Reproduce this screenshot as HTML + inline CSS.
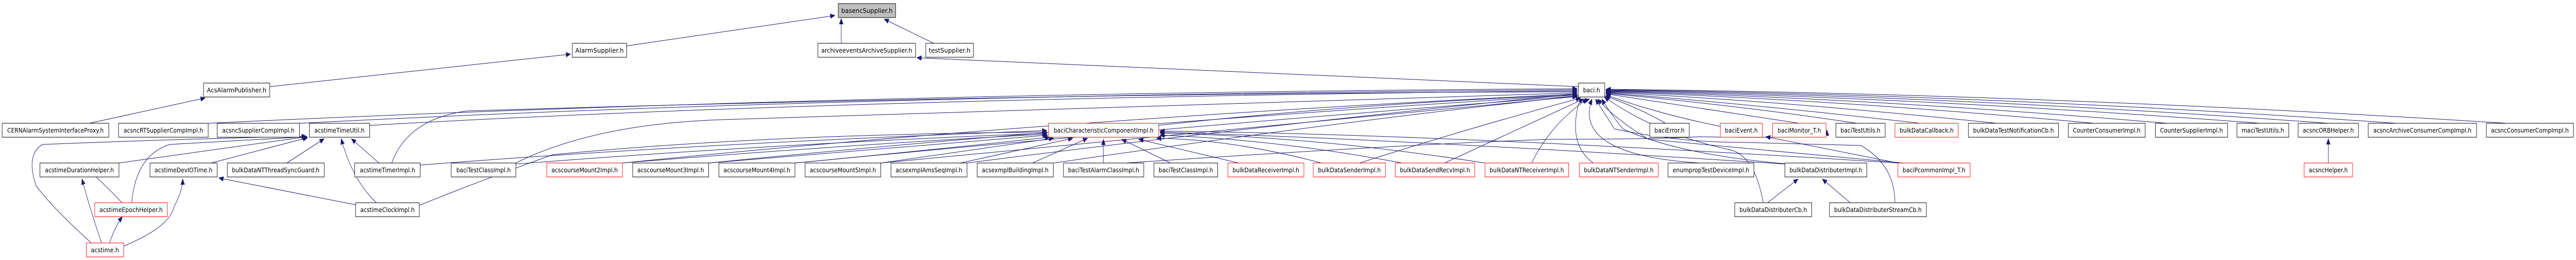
<!DOCTYPE html>
<html><head><meta charset="utf-8"><style>
html,body{margin:0;padding:0;background:#fff;width:100%;height:100%;overflow:hidden;}
svg{display:block;width:100vw;height:100vh;}
text{font-family:"DejaVu Sans","Liberation Sans",sans-serif;font-size:12px;fill:#000;}
.e{fill:none;stroke:#191970;stroke-width:1;}
.b{fill:#fff;stroke:#000;stroke-width:1;}
.r{fill:#fff;stroke:#ff0000;stroke-width:1;}
.g{fill:#bfbfbf;stroke:#000;stroke-width:1;}
</style></head><body>
<svg viewBox="0 0 6063 504" preserveAspectRatio="none" xmlns="http://www.w3.org/2000/svg">
<defs><marker id="a" markerUnits="userSpaceOnUse" markerWidth="12" markerHeight="10" refX="11" refY="5" orient="auto"><path d="M0,0 L12,5 L0,10 z" fill="#191970"/></marker></defs>
<g class="e" marker-end="url(#a)">
<path d="M1475,89 L1965,30"/>
<path d="M1980,84 L1980,36"/>
<path d="M2198,84 L2081,37"/>
<path d="M635,168 L1343,105"/>
<path d="M210,239 L483,190"/>
<path d="M3715,168 L2158,112"/>
<path d="M490,239 Q2000,180 3712,172"/>
<path d="M705,239 Q2000,184 3712,174"/>
<path d="M870,243 Q2000,190 3712,176"/>
<path d="M922,316 Q960,230 1100,215 Q2500,180 3712,178"/>
<path d="M1214,316 Q1400,240 1700,232 Q2800,200 3712,180"/>
<path d="M1465,316 Q2500,230 3712,182"/>
<path d="M1668,316 Q2600,240 3712,184"/>
<path d="M1871,316 Q2700,250 3712,186"/>
<path d="M2073,316 Q2800,258 3712,187"/>
<path d="M2727,243 Q3200,200 3712,184"/>
<path d="M3200,316 Q3450,250 3720,190"/>
<path d="M3400,316 Q3600,240 3727,192"/>
<path d="M3605,316 Q3650,240 3736,192"/>
<path d="M3750,316 Q3690,280 3716,200 L3741,192"/>
<path d="M4000,316 Q3700,300 3747,192"/>
<path d="M2275,316 Q3000,240 3712,182"/>
<path d="M2480,316 Q3200,230 3714,186"/>
<path d="M3920,239 Q3860,210 3778,186"/>
<path d="M4049,245 Q3900,220 3780,184"/>
<path d="M4235,239 Q4000,210 3780,182"/>
<path d="M4370,239 Q4100,205 3780,181"/>
<path d="M4520,239 Q4100,200 3780,180"/>
<path d="M4700,239 Q4200,196 3780,179"/>
<path d="M4930,239 Q4300,192 3780,178"/>
<path d="M5100,239 Q4400,190 3780,177"/>
<path d="M5320,239 Q4500,188 3780,176"/>
<path d="M5480,239 Q4600,186 3780,175"/>
<path d="M5640,239 Q4700,184 3780,174"/>
<path d="M5900,239 Q4800,182 3780,173"/>
<path d="M4210,318 Q3950,300 3820,250 Q3790,220 3770,192"/>
<path d="M4480,316 Q4000,280 3880,270 Q3800,230 3760,192"/>
<path d="M4150,393 Q4130,300 4070,290 Q3900,260 3776,188"/>
<path d="M4460,393 Q4460,320 4380,282 L4100,276 Q3950,276 3800,250 L3755,192"/>
<path d="M280,316 L723,265"/>
<path d="M497,316 L724,267"/>
<path d="M675,316 L763,269"/>
<path d="M892,316 L827,269"/>
<path d="M886,393 Q830,350 803,269"/>
<path d="M310,393 Q320,300 400,280 Q600,270 722,265"/>
<path d="M215,471 Q120,400 85,360 Q60,300 100,280 Q400,270 721,264"/>
<path d="M287,393 Q250,360 212,333"/>
<path d="M239,471 Q210,400 193,347"/>
<path d="M258,471 Q270,440 288,420"/>
<path d="M291,477 Q400,440 410,400 Q430,370 430,347"/>
<path d="M837,397 L515,345"/>
<path d="M989,320 Q1600,280 2464,253"/>
<path d="M987,398 Q1100,360 1300,300 Q1800,260 2464,256"/>
<path d="M1214,318 Q1800,280 2464,258"/>
<path d="M1465,316 Q2000,280 2464,260"/>
<path d="M1668,316 Q2100,285 2466,262"/>
<path d="M1871,316 Q2200,290 2470,266"/>
<path d="M2073,316 Q2300,290 2480,268"/>
<path d="M2260,316 L2525,268"/>
<path d="M2430,316 L2560,268"/>
<path d="M2597,316 L2597,270"/>
<path d="M2755,316 L2640,270"/>
<path d="M2915,316 L2680,270"/>
<path d="M3110,316 Q2900,270 2722,268"/>
<path d="M3300,316 Q3000,270 2730,262"/>
<path d="M3495,316 Q3100,265 2730,258"/>
<path d="M4201,318 Q3300,270 2730,256"/>
<path d="M4467,316 Q3400,260 2730,254"/>
<path d="M2650,316 Q3300,280 3650,270 Q3900,270 4000,265 Q4300,270 4300,255 L4300,252"/>
<path d="M4467,316 L4156,265"/>
<path d="M4160,393 L4232,347"/>
<path d="M4355,393 L4289,347"/>
<path d="M5480,316 L5480,269"/>
</g>
<g>
<rect class="g" x="1973" y="7" width="135" height="27"/><text x="2040.5" y="25" text-anchor="middle" textLength="121" lengthAdjust="spacingAndGlyphs">basencSupplier.h</text>
<rect class="b" x="1347" y="84" width="128" height="27"/><text x="1411" y="102" text-anchor="middle" textLength="114" lengthAdjust="spacingAndGlyphs">AlarmSupplier.h</text>
<rect class="b" x="1925" y="84" width="230" height="27"/><text x="2040" y="102" text-anchor="middle" textLength="214" lengthAdjust="spacingAndGlyphs">archiveeventsArchiveSupplier.h</text>
<rect class="b" x="2179" y="84" width="112" height="27"/><text x="2235" y="102" text-anchor="middle" textLength="98" lengthAdjust="spacingAndGlyphs">testSupplier.h</text>
<rect class="b" x="479" y="161" width="156" height="27"/><text x="557" y="179" text-anchor="middle" textLength="140" lengthAdjust="spacingAndGlyphs">AcsAlarmPublisher.h</text>
<rect class="b" x="3715" y="161" width="62" height="27"/><text x="3746" y="179" text-anchor="middle" textLength="40" lengthAdjust="spacingAndGlyphs">baci.h</text>
<rect class="b" x="5" y="239" width="251" height="27"/><text x="130.5" y="257" text-anchor="middle" textLength="227" lengthAdjust="spacingAndGlyphs">CERNAlarmSystemInterfaceProxy.h</text>
<rect class="b" x="279" y="239" width="211" height="27"/><text x="384.5" y="257" text-anchor="middle" textLength="187" lengthAdjust="spacingAndGlyphs">acsncRTSupplierCompImpl.h</text>
<rect class="b" x="511" y="239" width="194" height="27"/><text x="608" y="257" text-anchor="middle" textLength="170" lengthAdjust="spacingAndGlyphs">acsncSupplierCompImpl.h</text>
<rect class="b" x="728" y="239" width="142" height="27"/><text x="799" y="257" text-anchor="middle" textLength="118" lengthAdjust="spacingAndGlyphs">acstimeTimeUtil.h</text>
<rect class="r" x="2468" y="239" width="259" height="27"/><text x="2597.5" y="257" text-anchor="middle" textLength="235" lengthAdjust="spacingAndGlyphs">baciCharacteristicComponentImpl.h</text>
<rect class="b" x="3883" y="239" width="93" height="27"/><text x="3929.5" y="257" text-anchor="middle" textLength="71" lengthAdjust="spacingAndGlyphs">baciError.h</text>
<rect class="r" x="4049" y="239" width="99" height="27"/><text x="4098.5" y="257" text-anchor="middle" textLength="77" lengthAdjust="spacingAndGlyphs">baciEvent.h</text>
<rect class="r" x="4172" y="239" width="126" height="27"/><text x="4235" y="257" text-anchor="middle" textLength="102" lengthAdjust="spacingAndGlyphs">baciMonitor_T.h</text>
<rect class="b" x="4321" y="239" width="116" height="27"/><text x="4379" y="257" text-anchor="middle" textLength="94" lengthAdjust="spacingAndGlyphs">baciTestUtils.h</text>
<rect class="r" x="4460" y="239" width="149" height="27"/><text x="4534.5" y="257" text-anchor="middle" textLength="127" lengthAdjust="spacingAndGlyphs">bulkDataCallback.h</text>
<rect class="b" x="4633" y="239" width="212" height="27"/><text x="4739" y="257" text-anchor="middle" textLength="190" lengthAdjust="spacingAndGlyphs">bulkDataTestNotificationCb.h</text>
<rect class="b" x="4868" y="239" width="181" height="27"/><text x="4958.5" y="257" text-anchor="middle" textLength="159" lengthAdjust="spacingAndGlyphs">CounterConsumerImpl.h</text>
<rect class="b" x="5073" y="239" width="170" height="27"/><text x="5158" y="257" text-anchor="middle" textLength="148" lengthAdjust="spacingAndGlyphs">CounterSupplierImpl.h</text>
<rect class="b" x="5265" y="239" width="122" height="27"/><text x="5326" y="257" text-anchor="middle" textLength="100" lengthAdjust="spacingAndGlyphs">maciTestUtils.h</text>
<rect class="b" x="5409" y="239" width="142" height="27"/><text x="5480" y="257" text-anchor="middle" textLength="120" lengthAdjust="spacingAndGlyphs">acsncORBHelper.h</text>
<rect class="b" x="5574" y="239" width="255" height="27"/><text x="5701.5" y="257" text-anchor="middle" textLength="231" lengthAdjust="spacingAndGlyphs">acsncArchiveConsumerCompImpl.h</text>
<rect class="b" x="5852" y="239" width="205" height="27"/><text x="5954.5" y="257" text-anchor="middle" textLength="183" lengthAdjust="spacingAndGlyphs">acsncConsumerCompImpl.h</text>
<rect class="b" x="94" y="316" width="186" height="27"/><text x="187" y="334" text-anchor="middle" textLength="162" lengthAdjust="spacingAndGlyphs">acstimeDurationHelper.h</text>
<rect class="b" x="353" y="316" width="158" height="27"/><text x="432" y="334" text-anchor="middle" textLength="136" lengthAdjust="spacingAndGlyphs">acstimeDevIOTime.h</text>
<rect class="b" x="535" y="316" width="228" height="27"/><text x="649" y="334" text-anchor="middle" textLength="206" lengthAdjust="spacingAndGlyphs">bulkDataNTThreadSyncGuard.h</text>
<rect class="b" x="835" y="316" width="154" height="27"/><text x="912" y="334" text-anchor="middle" textLength="130" lengthAdjust="spacingAndGlyphs">acstimeTimerImpl.h</text>
<rect class="b" x="1062" y="316" width="152" height="27"/><text x="1138" y="334" text-anchor="middle" textLength="128" lengthAdjust="spacingAndGlyphs">baciTestClassImpl.h</text>
<rect class="r" x="1287" y="316" width="178" height="27"/><text x="1376" y="334" text-anchor="middle" textLength="156" lengthAdjust="spacingAndGlyphs">acscourseMount2Impl.h</text>
<rect class="b" x="1489" y="316" width="179" height="27"/><text x="1578.5" y="334" text-anchor="middle" textLength="157" lengthAdjust="spacingAndGlyphs">acscourseMount3Impl.h</text>
<rect class="b" x="1692" y="316" width="179" height="27"/><text x="1781.5" y="334" text-anchor="middle" textLength="157" lengthAdjust="spacingAndGlyphs">acscourseMount4Impl.h</text>
<rect class="b" x="1895" y="316" width="178" height="27"/><text x="1984" y="334" text-anchor="middle" textLength="156" lengthAdjust="spacingAndGlyphs">acscourseMount5Impl.h</text>
<rect class="b" x="2097" y="316" width="179" height="27"/><text x="2186.5" y="334" text-anchor="middle" textLength="157" lengthAdjust="spacingAndGlyphs">acsexmplAmsSeqImpl.h</text>
<rect class="b" x="2300" y="316" width="179" height="27"/><text x="2389.5" y="334" text-anchor="middle" textLength="157" lengthAdjust="spacingAndGlyphs">acsexmplBuildingImpl.h</text>
<rect class="b" x="2503" y="316" width="189" height="27"/><text x="2597.5" y="334" text-anchor="middle" textLength="167" lengthAdjust="spacingAndGlyphs">baciTestAlarmClassImpl.h</text>
<rect class="b" x="2716" y="316" width="150" height="27"/><text x="2791" y="334" text-anchor="middle" textLength="128" lengthAdjust="spacingAndGlyphs">baciTestClassImpl.h</text>
<rect class="r" x="2890" y="316" width="179" height="27"/><text x="2979.5" y="334" text-anchor="middle" textLength="157" lengthAdjust="spacingAndGlyphs">bulkDataReceiverImpl.h</text>
<rect class="r" x="3091" y="316" width="170" height="27"/><text x="3176" y="334" text-anchor="middle" textLength="148" lengthAdjust="spacingAndGlyphs">bulkDataSenderImpl.h</text>
<rect class="r" x="3284" y="316" width="187" height="27"/><text x="3377.5" y="334" text-anchor="middle" textLength="165" lengthAdjust="spacingAndGlyphs">bulkDataSendRecvImpl.h</text>
<rect class="r" x="3495" y="316" width="197" height="27"/><text x="3593.5" y="334" text-anchor="middle" textLength="175" lengthAdjust="spacingAndGlyphs">bulkDataNTReceiverImpl.h</text>
<rect class="r" x="3717" y="316" width="186" height="27"/><text x="3810" y="334" text-anchor="middle" textLength="164" lengthAdjust="spacingAndGlyphs">bulkDataNTSenderImpl.h</text>
<rect class="b" x="3926" y="316" width="202" height="27"/><text x="4027" y="334" text-anchor="middle" textLength="180" lengthAdjust="spacingAndGlyphs">enumpropTestDeviceImpl.h</text>
<rect class="b" x="4201" y="316" width="193" height="27"/><text x="4297.5" y="334" text-anchor="middle" textLength="171" lengthAdjust="spacingAndGlyphs">bulkDataDistributerImpl.h</text>
<rect class="r" x="4467" y="316" width="170" height="27"/><text x="4552" y="334" text-anchor="middle" textLength="148" lengthAdjust="spacingAndGlyphs">baciPcommonImpl_T.h</text>
<rect class="r" x="5423" y="316" width="114" height="27"/><text x="5480" y="334" text-anchor="middle" textLength="92" lengthAdjust="spacingAndGlyphs">acsncHelper.h</text>
<rect class="r" x="223" y="393" width="171" height="27"/><text x="308.5" y="411" text-anchor="middle" textLength="149" lengthAdjust="spacingAndGlyphs">acstimeEpochHelper.h</text>
<rect class="b" x="837" y="393" width="150" height="27"/><text x="912" y="411" text-anchor="middle" textLength="128" lengthAdjust="spacingAndGlyphs">acstimeClockImpl.h</text>
<rect class="b" x="4083" y="393" width="181" height="27"/><text x="4173.5" y="411" text-anchor="middle" textLength="159" lengthAdjust="spacingAndGlyphs">bulkDataDistributerCb.h</text>
<rect class="b" x="4306" y="393" width="228" height="27"/><text x="4420" y="411" text-anchor="middle" textLength="206" lengthAdjust="spacingAndGlyphs">bulkDataDistributerStreamCb.h</text>
<rect class="r" x="203" y="471" width="88" height="27"/><text x="247" y="489" text-anchor="middle" textLength="66" lengthAdjust="spacingAndGlyphs">acstime.h</text>
</g>
</svg>
</body></html>
